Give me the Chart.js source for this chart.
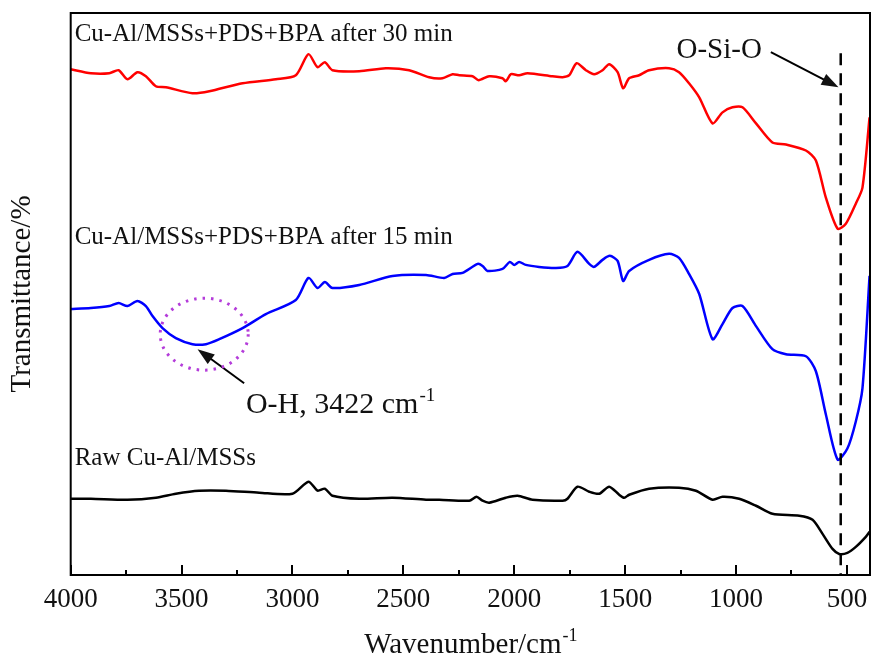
<!DOCTYPE html>
<html>
<head>
<meta charset="utf-8">
<script src="https://cdn.jsdelivr.net/npm/chart.js@4.4.0/dist/chart.umd.min.js"></script>
<style>
	body { margin: 0; background: #fff; }
</style>
</head>
<body>
<canvas id="ftir" width="872" height="661"></canvas>
<script>
// spectres (nombre d'onde en cm-1, transmittance en unités arbitraires)
const wave30 = [4000, 3909, 3826, 3784, 3744, 3699, 3661, 3616, 3571, 3451, 3375, 3225, 3075, 2985, 2928, 2887, 2854, 2820, 2699, 2579, 2474, 2384, 2324, 2278, 2248, 2188, 2161, 2113, 2053, 2038, 2015, 1978, 1940, 1828, 1782, 1752, 1719, 1677, 1640, 1602, 1572, 1534, 1509, 1482, 1437, 1392, 1302, 1257, 1212, 1166, 1106, 1061, 1016, 971, 910, 836, 775, 685, 640, 595, 542, 505, 460, 430, 398];
const trans30 = [504, 500, 500, 503, 494, 501, 497, 487, 486, 480, 482, 490, 494, 498, 519, 506, 511, 503, 502, 505, 503, 496, 495, 499, 498, 497, 493, 497, 495, 492, 499, 498, 500, 497, 496, 498, 510, 503, 499, 503, 509, 501, 485, 495, 498, 503, 505, 501, 490, 476, 450, 461, 466, 466, 450, 431, 429, 423, 413, 376, 345, 350, 370, 386, 456];

const wave15 = [4000, 3909, 3826, 3784, 3744, 3699, 3661, 3631, 3586, 3526, 3451, 3390, 3330, 3225, 3120, 2985, 2928, 2887, 2854, 2820, 2699, 2549, 2398, 2316, 2278, 2233, 2165, 2143, 2121, 2053, 2020, 2000, 1978, 1948, 1888, 1812, 1760, 1715, 1662, 1640, 1602, 1569, 1534, 1509, 1482, 1392, 1302, 1257, 1212, 1166, 1106, 1061, 1016, 971, 910, 836, 775, 685, 640, 595, 542, 498, 460, 430, 398];
const trans15 = [265, 266, 268, 271, 268, 273, 268, 258, 246, 236, 230, 230, 235, 246, 260, 274, 296, 286, 292, 286, 289, 298, 299, 296, 300, 301, 310, 308, 303, 305, 312, 309, 312, 309, 307, 306, 308, 322, 310, 307, 314, 318, 313, 293, 303, 314, 320, 316, 300, 280, 235, 250, 266, 268, 248, 225, 220, 218, 203, 160, 115, 126, 153, 186, 298];

const waveRaw = [4000, 3909, 3744, 3616, 3526, 3421, 3300, 3150, 3000, 2928, 2887, 2854, 2820, 2699, 2549, 2398, 2338, 2203, 2170, 2143, 2113, 2038, 1985, 1918, 1782, 1760, 1715, 1662, 1617, 1572, 1527, 1504, 1482, 1392, 1257, 1181, 1106, 1061, 986, 910, 836, 715, 655, 610, 565, 535, 498, 460, 415, 398];
const transRaw = [76, 76, 75, 77, 81, 84, 84, 82, 81, 93, 84, 86, 79, 76, 77, 75, 75, 74, 78, 74, 72, 77, 79, 75, 74, 76, 88, 83, 81, 88, 80, 77, 80, 86, 87, 84, 75, 78, 76, 69, 61, 59, 55, 41, 26, 21, 22, 28, 38, 43];

const xTickValues = [4000, 3500, 3000, 2500, 2000, 1500, 1000, 500];
const xMinorTicks = [3750, 3250, 2750, 2250, 1750, 1250, 750];
const seriesNames = ["Cu-Al/MSSs+PDS+BPA after 30 min", "Cu-Al/MSSs+PDS+BPA after 15 min", "Raw Cu-Al/MSSs"];

const serif = "'Liberation Serif', 'Times New Roman', serif";

const toPoints = (w, t) => w.map((x, i) => ({ x: x, y: t[i] }));

// flèche simple
const arrow = (ctx, x1, y1, x2, y2) => {
	const a = Math.atan2(y2 - y1, x2 - x1);
	const c = Math.cos(a), s = Math.sin(a);
	ctx.beginPath();
	ctx.moveTo(x1, y1);
	ctx.lineTo(x2 - 12 * c, y2 - 12 * s);
	ctx.stroke();
	ctx.beginPath();
	ctx.moveTo(x2, y2);
	ctx.lineTo(x2 - 17 * c + 6 * s, y2 - 17 * s - 6 * c);
	ctx.lineTo(x2 - 17 * c - 6 * s, y2 - 17 * s + 6 * c);
	ctx.closePath();
	ctx.fill();
};

// texte avec exposant
const supText = (ctx, base, sup, px, py, size, center) => {
	const small = Math.round(size * 0.62);
	ctx.font = `${size}px ${serif}`;
	const w1 = ctx.measureText(base).width;
	ctx.font = `${small}px ${serif}`;
	const w2 = ctx.measureText(sup).width;
	const sx = center ? px - (w1 + w2) / 2 : px;
	ctx.textAlign = "left";
	ctx.font = `${size}px ${serif}`;
	ctx.fillText(base, sx, py);
	ctx.font = `${small}px ${serif}`;
	ctx.fillText(sup, sx + w1 + 1, py - size * 0.4);
};

const decor = {
	id: "decor",
	afterDraw(chart) {
		const { ctx, chartArea: area, scales: { x, y } } = chart;
		ctx.save();
		ctx.strokeStyle = "#000";
		ctx.fillStyle = "#000";
		ctx.lineWidth = 2;
		ctx.strokeRect(area.left, area.top, area.right - area.left, area.bottom - area.top);

		// graduations vers l'intérieur
		const tick = (v, len) => {
			const px = Math.round(x.getPixelForValue(v));
			ctx.beginPath();
			ctx.moveTo(px, area.bottom);
			ctx.lineTo(px, area.bottom - len);
			ctx.stroke();
		};
		xTickValues.forEach((v) => tick(v, 10));
		xMinorTicks.forEach((v) => tick(v, 5));

		// ligne O-Si-O
		const dx = x.getPixelForValue(528);
		ctx.setLineDash([12, 8]);
		ctx.lineWidth = 2.5;
		ctx.beginPath();
		ctx.moveTo(dx, y.getPixelForValue(520));
		ctx.lineTo(dx, area.bottom);
		ctx.stroke();
		ctx.setLineDash([]);

		// noms des courbes
		ctx.fillStyle = "#111";
		ctx.font = `25px ${serif}`;
		ctx.textAlign = "left";
		ctx.textBaseline = "alphabetic";
		[[0, 532], [1, 330], [2, 110]].forEach(([i, v]) => {
			ctx.fillText(seriesNames[i], area.left + 4, y.getPixelForValue(v));
		});

		// O-Si-O
		ctx.font = `29px ${serif}`;
		ctx.textAlign = "center";
		ctx.fillText("O-Si-O", x.getPixelForValue(1076), y.getPixelForValue(515));
		ctx.lineWidth = 2;
		arrow(ctx, x.getPixelForValue(843), y.getPixelForValue(521), x.getPixelForValue(538), y.getPixelForValue(486));

		// O-H
		supText(ctx, "O-H, 3422 cm", "-1", x.getPixelForValue(3210), y.getPixelForValue(161), 30, false);
		arrow(ctx, x.getPixelForValue(3218), y.getPixelForValue(191), x.getPixelForValue(3428), y.getPixelForValue(225));

		// cercle pointillé
		ctx.strokeStyle = "#b43cda";
		ctx.lineWidth = 3;
		ctx.setLineDash([2.5, 6]);
		ctx.beginPath();
		ctx.ellipse(x.getPixelForValue(3398), y.getPixelForValue(240), 44, 36, 0, 0, Math.PI * 2);
		ctx.stroke();
		ctx.setLineDash([]);

		// titre axe x
		ctx.fillStyle = "#111";
		supText(ctx, "Wavenumber/cm", "-1", (area.left + area.right) / 2, 653, 29, true);
		ctx.restore();
	},
};

window.addEventListener("load", () => {
	const canva = document.querySelector("#ftir");
	new Chart(canva, {
		type: "line",
		data: {
			datasets: [
				{ label: seriesNames[2], data: toPoints(waveRaw, transRaw), borderColor: "#000000" },
				{ label: seriesNames[1], data: toPoints(wave15, trans15), borderColor: "#0000ff" },
				{ label: seriesNames[0], data: toPoints(wave30, trans30), borderColor: "#ff0000" },
			],
		},
		options: {
			responsive: false,
			animation: false,
			layout: { padding: { top: 13, right: 2, left: 0, bottom: 35.6 } },
			elements: {
				point: { radius: 0 },
				line: { borderWidth: 2.5, tension: 0.25, fill: false },
			},
			plugins: { legend: { display: false }, tooltip: { enabled: false } },
			scales: {
				x: {
					type: "linear",
					reverse: true,
					min: 396,
					max: 4000,
					afterBuildTicks: (scale) => {
						scale.ticks = xTickValues.map((v) => ({ value: v }));
					},
					afterFit: (scale) => {
						scale.paddingLeft = 0;
						scale.paddingRight = 0;
					},
					ticks: {
						autoSkip: false,
						maxRotation: 0,
						padding: 9,
						color: "#111",
						font: { family: serif, size: 27 },
						callback: (v) => String(v),
					},
					grid: { display: false, drawTicks: false },
					border: { display: false },
				},
				y: {
					min: 0,
					max: 560,
					ticks: { display: false },
					grid: { display: false, drawTicks: false },
					border: { display: false },
					title: {
						display: true,
						text: "Transmittance/%",
						color: "#111",
						font: { family: serif, size: 29 },
						padding: { top: 5, bottom: 30.9 },
					},
				},
			},
		},
		plugins: [decor],
	});
});
</script>
</body>
</html>
